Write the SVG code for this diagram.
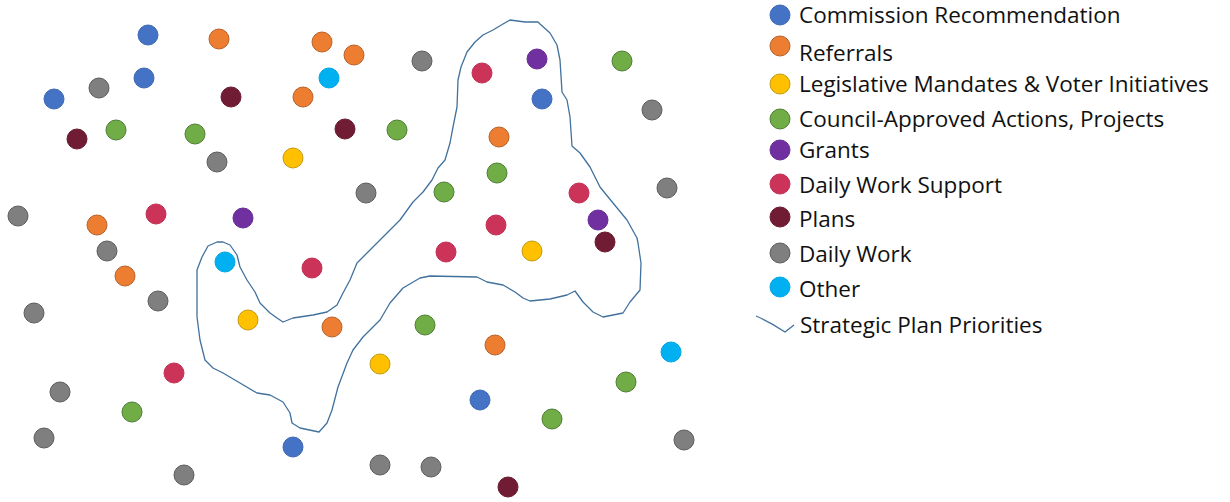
<svg xmlns="http://www.w3.org/2000/svg" width="1230" height="502" viewBox="0 0 1230 502">
<style>
.d{stroke-width:1}
.cm{fill:#4472C4;stroke:#3f69b5}
.rf{fill:#ED7D31;stroke:#b8612a}
.lm{fill:#FFC000;stroke:#c49a10}
.ca{fill:#70AD47;stroke:#4f7d33}
.gr{fill:#7030A0;stroke:#672c93}
.ds{fill:#CC3358;stroke:#c23053}
.pl{fill:#701C34;stroke:#6a1a31}
.dw{fill:#7F7F7F;stroke:#5c5c5c}
.ot{fill:#00B0F0;stroke:#00a6e3}
.lt{font-family:"Open Sans","Noto Sans",sans-serif;font-size:22.5px;fill:#111}
.blob{fill:none;stroke:#41719C;stroke-width:1.3;stroke-linejoin:round}
</style>
<rect width="1230" height="502" fill="#fff"/>
<g id="priorities">
<path class="blob" d="M510,20 L503,24 493,30 483,35 475,42 467,52 461,67 458,80 457,107 453,127 450,143 445,160 438,168 432,180 423,192 413,202 400,220 390,230 382,238 370,250 357,263 350,280 343,293 337,305 327,312 313,315 293,318 283,322 277,318 270,313 260,303 255,292 247,280 240,267 237,255 230,245 223,242 217,242 208,246 202,257 197,270 197,317 200,340 205,360 213,368 223,373 240,383 257,393 270,395 283,402 290,413 292,423 300,428 319,432 327,423 332,410 338,387 347,363 353,350 363,337 380,320 390,303 403,288 420,278 430,276 477,277 487,282 503,285 515,292 523,298 530,301 550,299 567,295 575,291 583,302 593,312 603,317 623,313 630,302 640,290 641,263 638,243 637,238 627,220 613,203 600,187 590,167 580,153 572,146 570,117 567,100 562,92 560,60 557,45 550,33 540,24 538,22 525,22 Z"/>
</g>
<g id="dots">
<circle class="d cm" cx="148" cy="35" r="10"/>
<circle class="d cm" cx="144" cy="78" r="10"/>
<circle class="d cm" cx="54" cy="99" r="10"/>
<circle class="d cm" cx="542" cy="99" r="10"/>
<circle class="d cm" cx="480" cy="400" r="10"/>
<circle class="d cm" cx="293" cy="447" r="10"/>
<circle class="d rf" cx="219" cy="39" r="10"/>
<circle class="d rf" cx="322" cy="42" r="10"/>
<circle class="d rf" cx="354" cy="55" r="10"/>
<circle class="d rf" cx="303" cy="97" r="10"/>
<circle class="d rf" cx="499" cy="137" r="10"/>
<circle class="d rf" cx="97" cy="225" r="10"/>
<circle class="d rf" cx="125" cy="276" r="10"/>
<circle class="d rf" cx="332" cy="327" r="10"/>
<circle class="d rf" cx="495" cy="345" r="10"/>
<circle class="d lm" cx="293" cy="158" r="10"/>
<circle class="d lm" cx="532" cy="251" r="10"/>
<circle class="d lm" cx="248" cy="320" r="10"/>
<circle class="d lm" cx="380" cy="364" r="10"/>
<circle class="d ca" cx="622" cy="61" r="10"/>
<circle class="d ca" cx="116" cy="130" r="10"/>
<circle class="d ca" cx="195" cy="134" r="10"/>
<circle class="d ca" cx="397" cy="130" r="10"/>
<circle class="d ca" cx="444" cy="192" r="10"/>
<circle class="d ca" cx="497" cy="173" r="10"/>
<circle class="d ca" cx="425" cy="325" r="10"/>
<circle class="d ca" cx="626" cy="382" r="10"/>
<circle class="d ca" cx="132" cy="412" r="10"/>
<circle class="d ca" cx="552" cy="419" r="10"/>
<circle class="d gr" cx="537" cy="59" r="10"/>
<circle class="d gr" cx="243" cy="218" r="10"/>
<circle class="d gr" cx="598" cy="220" r="10"/>
<circle class="d ds" cx="482" cy="73" r="10"/>
<circle class="d ds" cx="156" cy="214" r="10"/>
<circle class="d ds" cx="579" cy="193" r="10"/>
<circle class="d ds" cx="496" cy="225" r="10"/>
<circle class="d ds" cx="446" cy="252" r="10"/>
<circle class="d ds" cx="312" cy="268" r="10"/>
<circle class="d ds" cx="174" cy="373" r="10"/>
<circle class="d pl" cx="231" cy="97" r="10"/>
<circle class="d pl" cx="77" cy="139" r="10"/>
<circle class="d pl" cx="345" cy="129" r="10"/>
<circle class="d pl" cx="605" cy="242" r="10"/>
<circle class="d pl" cx="508" cy="487" r="10"/>
<circle class="d dw" cx="99" cy="88" r="10"/>
<circle class="d dw" cx="422" cy="61" r="10"/>
<circle class="d dw" cx="652" cy="110" r="10"/>
<circle class="d dw" cx="217" cy="162" r="10"/>
<circle class="d dw" cx="366" cy="193" r="10"/>
<circle class="d dw" cx="667" cy="188" r="10"/>
<circle class="d dw" cx="18" cy="216" r="10"/>
<circle class="d dw" cx="107" cy="251" r="10"/>
<circle class="d dw" cx="158" cy="301" r="10"/>
<circle class="d dw" cx="34" cy="313" r="10"/>
<circle class="d dw" cx="60" cy="392" r="10"/>
<circle class="d dw" cx="44" cy="438" r="10"/>
<circle class="d dw" cx="684" cy="440" r="10"/>
<circle class="d dw" cx="184" cy="475" r="10"/>
<circle class="d dw" cx="380" cy="465" r="10"/>
<circle class="d dw" cx="431" cy="467" r="10"/>
<circle class="d ot" cx="329" cy="78" r="10"/>
<circle class="d ot" cx="225" cy="262" r="10"/>
<circle class="d ot" cx="671" cy="352" r="10"/>
</g>
<g id="legend">
<circle class="d cm" cx="780" cy="15" r="10"/>
<text class="lt" x="799" y="23">Commission Recommendation</text>
<circle class="d rf" cx="780" cy="46" r="10"/>
<text class="lt" x="799" y="61">Referrals</text>
<circle class="d lm" cx="780" cy="84" r="10"/>
<text class="lt" x="799" y="92">Legislative Mandates &amp; Voter Initiatives</text>
<circle class="d ca" cx="780" cy="119" r="10"/>
<text class="lt" x="799" y="127">Council-Approved Actions, Projects</text>
<circle class="d gr" cx="780" cy="150" r="10"/>
<text class="lt" x="799" y="158">Grants</text>
<circle class="d ds" cx="780" cy="184" r="10"/>
<text class="lt" x="799" y="193">Daily Work Support</text>
<circle class="d pl" cx="780" cy="217" r="10"/>
<text class="lt" x="799" y="227">Plans</text>
<circle class="d dw" cx="780" cy="253" r="10"/>
<text class="lt" x="799" y="262">Daily Work</text>
<circle class="d ot" cx="780" cy="287" r="10"/>
<text class="lt" x="799" y="297">Other</text>
<path class="blob" d="M756,316 Q770,322 785,332 L794,325"/>
<text class="lt" x="800" y="333">Strategic Plan Priorities</text>
</g>
</svg>
